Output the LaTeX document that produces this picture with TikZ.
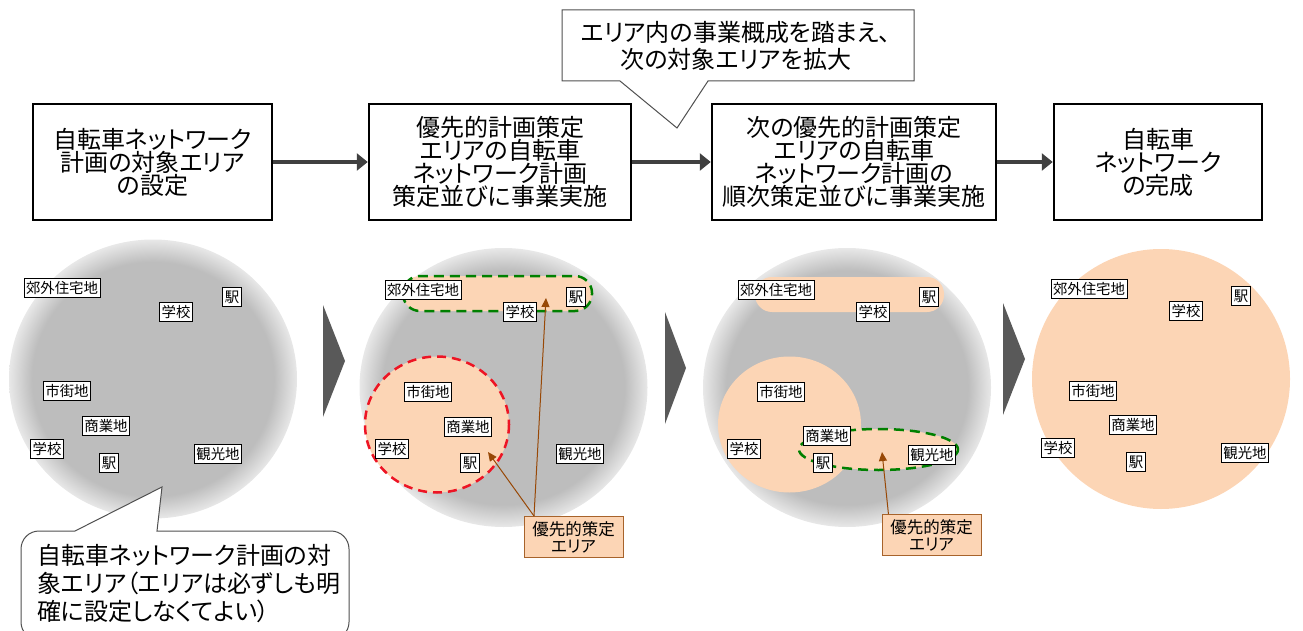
\documentclass[tikz,border=0pt]{standalone}
\usepackage{fontspec}
\setmainfont[RawFeature=+palt]{Noto Sans CJK JP}
\usepackage{tikz}
\usetikzlibrary{shapes,arrows.meta}

\definecolor{areaOrange}{RGB}{252,213,181}
\definecolor{tagBrown}{RGB}{152,72,6}
\definecolor{flowGray}{RGB}{64,64,64}
\definecolor{turnGray}{RGB}{89,89,89}
\definecolor{discGray}{RGB}{189,189,189}
\definecolor{discEdge}{RGB}{232,232,232}
\definecolor{lineGreen}{RGB}{0,128,0}
\definecolor{lineRed}{RGB}{237,20,36}
\definecolor{calloutGray}{RGB}{80,80,80}

\pgfdeclareradialshading{discShade}{\pgfpoint{0bp}{0bp}}{%
	color(0bp)=(discGray); color(21bp)=(discGray); color(25bp)=(discEdge); color(50bp)=(discEdge)}

\begin{document}
\begin{tikzpicture}[x=1pt,y=-1pt]
		\useasboundingbox (0,0) rectangle (1303,631);
		\begin{scope}
			[
				styleStep/.style={draw, line width=2.5pt, minimum height=116pt, inner sep=0pt,
					align=center, font=\fontsize{24}{23}\selectfont},
				styleSay/.style={draw=calloutGray, fill=white, line width=1pt},
				styleSayText/.style={inner sep=0pt, align=center, font=\fontsize{24}{27}\selectfont},
				stylePlace/.style={draw, fill=white, line width=1pt, minimum height=19pt, inner xsep=2pt, inner ysep=0pt,
					font=\fontsize{14.4}{14}\selectfont},
				styleTag/.style={draw=tagBrown!85, fill=areaOrange, line width=1pt, minimum width=99pt, minimum height=41pt,
					inner sep=0pt, align=center, font=\fontsize{16.5}{17}\selectfont},
				styleArea/.style={fill=areaOrange},
				dashGreen/.style={draw=lineGreen, line width=2.5pt, dash pattern=on 10pt off 6pt},
				dashRed/.style={draw=lineRed, line width=2.5pt, dash pattern=on 9pt off 6pt},
				flow/.style={draw=flowGray, line width=3.5pt, -{Triangle[length=11pt,width=17pt]}},
				tagArrow/.style={draw=tagBrown, line width=1pt, -{Triangle[length=9pt,width=8pt]}},
			]
			% top row
			\node(stepA)[styleStep, minimum width=239pt] at (152.5,162) {自転車ネットワーク\\計画の対象エリア\\の設定};
			\node(stepB)[styleStep, minimum width=262pt] at (500,162) {優先的計画策定\\エリアの自転車\\ネットワーク計画\\策定並びに事業実施};
			\node(stepC)[styleStep, minimum width=284pt] at (854,162) {次の優先的計画策定\\エリアの自転車\\ネットワーク計画の\\順次策定並びに事業実施};
			\node(stepD)[styleStep, minimum width=208pt] at (1158,162) {自転車\\ネットワーク\\の完成};
			\path (stepA) edge[flow] (stepB)
				(stepB) edge[flow] (stepC)
				(stepC) edge[flow] (stepD);

			\draw[styleSay] (562,10) -- (914,10) -- (914,81) -- (708,81) -- (677,128) -- (620,81) -- (562,81) -- cycle;
			\node(sayTop)[styleSayText] at (736,46) {エリア内の事業概成を踏まえ、\\次の対象エリアを拡大};

			% discs
			\shade[shading=discShade] (153,379) ellipse (144 and 139.5);
			\shade[shading=discShade] (503.5,387.5) ellipse (144 and 139.5);
			\shade[shading=discShade] (847,387.5) ellipse (144 and 139.5);
			\fill[styleArea] (1161,379) ellipse (129 and 130);

			\fill[turnGray] (323,305) -- (345,361) -- (323,417) -- cycle;
			\fill[turnGray] (665,312) -- (686,368) -- (665,424) -- cycle;
			\fill[turnGray] (1003,303) -- (1025,359) -- (1003,415) -- cycle;

			% second disc
			\path[styleArea, dashGreen, rounded corners=17pt] (403,276) rectangle (592,311);
			\path[styleArea, dashRed] (437,424.5) ellipse (72 and 68);
			\node(outerB)[stylePlace] at (423,290) {郊外住宅地};
			\node(stationB)[stylePlace] at (576,297) {駅};
			\node(schoolB)[stylePlace] at (520,312) {学校};
			\node(cityB)[stylePlace] at (428,392) {市街地};
			\node(shopB)[stylePlace] at (468,427) {商業地};
			\node(schoolBB)[stylePlace] at (392,449) {学校};
			\node(stationBB)[stylePlace] at (470,463) {駅};
			\node(sightB)[stylePlace] at (580,454) {観光地};
			\node(tagB)[styleTag] at (573.5,537) {優先的策定\\エリア};
			\coordinate(tipBa) at (546,298);
			\coordinate(tipBb) at (488,452);
			\path (tagB.152) edge[tagArrow] (tipBa)
				(tagB.152) edge[tagArrow] (tipBb);

			% third disc
			\fill[styleArea, rounded corners=17pt] (755,277) rectangle (944,312);
			\fill[styleArea] (789.5,424.5) ellipse (71.5 and 68);
			\path[styleArea, dashGreen] (878.5,449.5) ellipse (79.5 and 20.5);
			\node(outerC)[stylePlace] at (776,290) {郊外住宅地};
			\node(stationC)[stylePlace] at (929,297) {駅};
			\node(schoolC)[stylePlace] at (873,312) {学校};
			\node(cityC)[stylePlace] at (781,392) {市街地};
			\node(shopC)[stylePlace] at (827,436) {商業地};
			\node(schoolCC)[stylePlace] at (744,449) {学校};
			\node(stationCC)[stylePlace] at (823,463) {駅};
			\node(sightC)[stylePlace] at (932,455) {観光地};
			\node(tagC)[styleTag] at (931.5,535) {優先的策定\\エリア};
			\coordinate(tipC) at (882,452);
			\path (tagC.154) edge[tagArrow] (tipC);

			% first disc
			\node(outerA)[stylePlace] at (62,288) {郊外住宅地};
			\node(stationA)[stylePlace] at (232,297) {駅};
			\node(schoolA)[stylePlace] at (176,312) {学校};
			\node(cityA)[stylePlace] at (67,391) {市街地};
			\node(shopA)[stylePlace] at (106,426) {商業地};
			\node(schoolAA)[stylePlace] at (47,449) {学校};
			\node(stationAA)[stylePlace] at (109,463) {駅};
			\node(sightA)[stylePlace] at (218,454) {観光地};

			% last disc
			\node(outerD)[stylePlace] at (1089,289) {郊外住宅地};
			\node(stationD)[stylePlace] at (1241,296) {駅};
			\node(schoolD)[stylePlace] at (1186,311) {学校};
			\node(cityD)[stylePlace] at (1093,391) {市街地};
			\node(shopD)[stylePlace] at (1133,425) {商業地};
			\node(schoolDD)[stylePlace] at (1058,448) {学校};
			\node(stationDD)[stylePlace] at (1136,462) {駅};
			\node(sightD)[stylePlace] at (1245,453) {観光地};

			\draw[styleSay] (75,531) -- (162,487) -- (157,531) -- (331,531)
				arc[start angle=-90, end angle=0, radius=18] -- (349,622)
				arc[start angle=0, end angle=90, radius=18] -- (39,640)
				arc[start angle=90, end angle=180, radius=18] -- (21,549)
				arc[start angle=180, end angle=270, radius=18] -- cycle;
			\node(sayLow)[styleSayText, anchor=west, align=left, font=\fontsize{24}{28}\selectfont] at (37,584) {自転車ネットワーク計画の対\\象エリア（エリアは必ずしも明\\確に設定しなくてよい）};
		\end{scope}
	\end{tikzpicture}
\end{document}
